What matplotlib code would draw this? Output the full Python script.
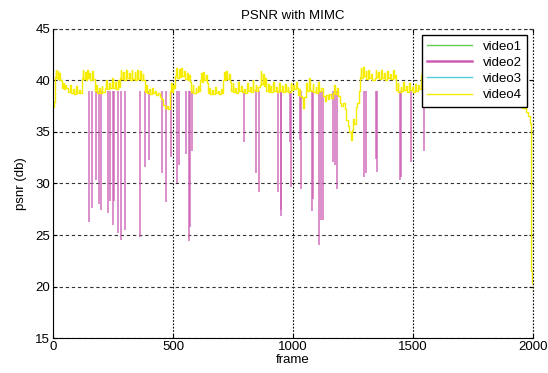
import matplotlib
matplotlib.use("Agg")
import matplotlib.pyplot as plt
from matplotlib.lines import Line2D

plt.rcParams["font.family"] = ["Liberation Sans", "DejaVu Sans"]

# ── data ────────────────────────────────────────────────────────────────────
# video4 (yellow) as step breakpoints: frame -> psnr
v4_frames = [
    0, 4, 8, 11, 14, 19, 22, 27, 30, 36, 42, 45, 52, 55,
    63, 70, 73, 84, 87, 96, 99, 110, 113,
    119, 123, 126, 133, 136, 143, 146, 152, 156, 163, 166,
    174, 180, 183, 192, 195, 203, 206,
    216, 222, 225, 234, 237, 245, 248, 258, 261, 270, 273,
    278, 282, 285, 292, 295, 304, 307, 316, 319, 328, 331, 340, 343, 352, 355, 364, 367, 374, 377,
    382, 388, 391, 400, 403, 412, 415, 425, 430, 438,
    445, 452, 459, 466, 474, 480,
    487, 491, 494, 500, 503,
    510, 514, 518, 524, 528, 535, 538, 546, 550, 558, 562, 568, 571,
    576, 582, 585, 594, 597, 604, 607,
    611, 616, 619, 627, 630, 638, 641,
    646, 652, 655, 664, 667, 676, 679, 688, 692, 700, 703,
    708, 712, 715, 722, 725, 733, 736,
    743, 748, 751, 760, 763, 772, 775, 784, 787, 796, 799, 808, 811, 820, 823, 832, 835, 844, 847, 854,
    861, 865, 868, 875, 878, 884,
    889, 895, 898, 906, 909, 918, 921, 930, 933, 942, 945, 954, 957, 966, 969, 978, 981, 990, 993,
    1002, 1005, 1014, 1017,
    1020, 1026, 1029, 1036, 1040, 1046, 1055, 1060, 1066, 1069, 1076, 1082, 1085, 1094, 1097, 1106,
    1109, 1116, 1124, 1132, 1138, 1146, 1152, 1160, 1166, 1172, 1175, 1184, 1187,
    1194, 1202, 1210, 1216, 1222, 1228, 1234, 1240, 1245, 1250, 1256, 1262, 1268, 1274,
    1278, 1282, 1285, 1292, 1295, 1303, 1306, 1314, 1317, 1326, 1330, 1340, 1344, 1347, 1356, 1359,
    1368, 1371, 1380, 1383, 1392, 1395, 1404, 1407, 1416, 1419, 1426,
    1430, 1436, 1439, 1448, 1451, 1460, 1463, 1472, 1475, 1484, 1487, 1496, 1499, 1508, 1511, 1520, 1524,
    1534, 1538, 1541, 1550, 1600, 1650, 1700, 1750, 1800, 1850, 1900,
    1944, 1955, 1965, 1972, 1980, 1986, 1990, 1994, 1998, 2000,
]
v4_psnr = [
    37.4, 37.9, 40.3, 41.0, 40.2, 40.9, 40.1, 40.7, 40.0, 39.3, 39.8, 39.2, 39.6, 39.3,
    38.9, 39.6, 38.8, 39.2, 38.7, 39.5, 38.8, 39.1, 38.8,
    40.2, 41.0, 40.1, 40.8, 40.0, 41.0, 40.2, 40.7, 40.0, 40.9, 40.1,
    39.0, 39.6, 38.8, 39.3, 38.8, 39.5, 38.9,
    39.3, 40.0, 39.2, 39.8, 39.3, 40.2, 39.3, 39.9, 39.2, 40.0, 39.4,
    40.2, 41.0, 40.1, 40.8, 40.0, 41.0, 40.2, 40.7, 40.0, 41.0, 40.1, 40.8, 40.0, 41.0, 40.1, 40.9, 40.0, 40.6, 40.0,
    38.9, 39.6, 38.8, 39.2, 38.7, 39.3, 38.8, 39.0, 38.6, 38.8,
    38.4, 38.2, 37.6, 37.3, 37.5, 37.2,
    39.0, 39.8, 38.9, 39.6, 39.3,
    40.4, 41.2, 40.2, 41.1, 40.3, 41.2, 40.4, 40.9, 40.1, 40.7, 40.0, 40.5, 39.9,
    38.9, 39.6, 38.8, 39.3, 38.9, 39.5, 39.0,
    40.0, 40.7, 39.9, 40.8, 40.0, 40.5, 39.8,
    38.8, 39.3, 38.7, 39.1, 38.7, 39.4, 38.8, 39.0, 38.7, 39.2, 38.8,
    40.0, 40.8, 40.0, 40.9, 40.1, 40.6, 39.9,
    39.0, 39.8, 38.9, 39.3, 38.8, 39.9, 39.0, 39.5, 38.9, 39.2, 38.8, 39.8, 39.0, 39.4, 38.9, 40.0, 39.1, 39.6, 39.0, 39.4,
    39.6, 40.9, 39.7, 40.6, 39.5, 40.2,
    39.0, 39.7, 38.9, 39.5, 38.9, 39.9, 39.0, 39.4, 38.9, 39.8, 39.0, 39.5, 38.9, 39.7, 39.0, 39.4, 38.9, 39.8, 39.1,
    39.6, 39.2, 39.9, 39.3,
    38.6, 39.2, 38.5, 38.3, 37.3, 38.4, 39.8, 39.0, 40.2, 39.1, 39.0, 39.7, 38.9, 39.4, 38.8, 39.9,
    39.0, 39.3, 38.5, 38.0, 38.6, 38.2, 38.7, 38.3, 38.8, 39.6, 38.7, 39.3, 38.5,
    37.8, 37.5, 37.8, 37.2, 36.2, 35.6, 35.0, 34.2, 35.2, 36.3, 35.8, 37.4, 37.8, 39.0,
    40.3, 41.2, 40.2, 41.3, 40.4, 40.9, 40.1, 41.0, 40.2, 40.6, 40.0, 40.2, 41.0, 40.3, 40.8, 40.1,
    41.0, 40.2, 40.7, 40.0, 40.9, 40.2, 40.6, 40.1, 41.0, 40.2, 40.5,
    39.1, 39.8, 38.9, 39.4, 39.0, 39.9, 39.1, 39.5, 38.9, 39.8, 39.1, 39.4, 38.9, 39.7, 39.0, 39.6, 39.2,
    40.5, 41.0, 40.2, 40.0, 39.3, 40.2, 39.0, 39.6, 38.9, 39.5, 38.8,
    38.0, 37.3, 37.6, 36.9, 36.6, 35.9, 21.5, 20.3, 19.6, 19.6,
]

# video2 (magenta) drops below the common curve: frame, lowest psnr
v2_dip_frames = [
    152, 163, 180, 190, 200, 228, 237, 248, 256, 272, 285, 298, 362, 383, 402, 456, 471,
    492, 517, 524, 553, 565, 570, 578, 797, 844, 858, 937, 948, 952, 988, 993,
    1028, 1032, 1078, 1084, 1110, 1116, 1125, 1168, 1174, 1185, 1297, 1303,
    1347, 1352, 1447, 1452, 1491, 1545,
]
v2_dip_psnr = [
    26.3, 27.6, 30.3, 28.0, 27.4, 27.1, 28.3, 26.0, 28.3, 25.2, 24.5, 25.5, 24.8, 31.6, 32.3, 31.0, 28.2,
    32.6, 30.0, 31.8, 32.9, 24.4, 25.8, 33.2, 34.0, 31.0, 29.2, 29.2, 26.8, 27.4, 34.0, 29.7,
    34.2, 29.5, 27.3, 28.5, 24.0, 26.5, 26.5, 32.1, 31.8, 29.5, 30.6, 31.0,
    32.4, 31.1, 30.3, 30.6, 32.1, 33.2,
]
v2_top = 39.0

labels = ["video1", "video2", "video3", "video4"]
colors = ["#66cc55", "#cc5cb4", "#55ccdd", "#f5ec00"]

# ── figure ──────────────────────────────────────────────────────────────────
fig = plt.figure(figsize=(5.48, 3.73), dpi=100)
ax = fig.add_axes([0.0967, 0.0938, 0.8759, 0.8285])

# video1 / video2 / video3 share the video4 curve outside the dips and sit beneath it
ax.plot(v4_frames, v4_psnr, drawstyle="steps-post", color=colors[0], lw=0.4)
ax.plot(v4_frames, v4_psnr, drawstyle="steps-post", color=colors[1], lw=0.4)
ax.vlines(v2_dip_frames, v2_dip_psnr, v2_top, color=colors[1], lw=1.3, alpha=0.75)
ax.plot(v4_frames, v4_psnr, drawstyle="steps-post", color=colors[2], lw=0.4)
ax.plot(v4_frames, v4_psnr, drawstyle="steps-post", color=colors[3], lw=1.0)

ax.set_xlim(0, 2000)
ax.set_ylim(15, 45)
ax.set_xticks([0, 500, 1000, 1500, 2000])
ax.set_yticks([15, 20, 25, 30, 35, 40, 45])
ax.tick_params(direction="in", length=3, labelsize=9.5, top=True, right=True, pad=2)

ax.xaxis.grid(True, linestyle=(0, (1.5, 1.5)), color="k", lw=0.8)
ax.yaxis.grid(True, linestyle=(0, (3, 2.5)), color="#333333", lw=0.8)
ax.spines["top"].set_visible(False)
ax.spines["right"].set_visible(False)
ax.axhline(45, color="#333333", lw=0.8, linestyle=(0, (3, 2.5)), clip_on=False)
ax.axvline(2000, color="k", lw=0.8, linestyle=(0, (1.5, 1.5)), clip_on=False)

ax.set_title("PSNR with MIMC", fontsize=9.5, pad=7)
ax.set_xlabel("frame", fontsize=9.5, labelpad=1)
ax.set_ylabel("psnr (db)", fontsize=9.5, labelpad=6)

handles = [Line2D([], [], color=c, lw=(1.8 if i == 1 else 1.0)) for i, c in enumerate(colors)]
leg = ax.legend(handles, labels, loc="upper right", bbox_to_anchor=(0.9875, 0.98), borderaxespad=0,
                fontsize=9.5, handlelength=3.4, fancybox=False, framealpha=1,
                edgecolor="k", labelspacing=0.3, borderpad=0.4)
leg.get_frame().set_linewidth(1.0)

plt.savefig("out.png", dpi=100)
plt.close()
